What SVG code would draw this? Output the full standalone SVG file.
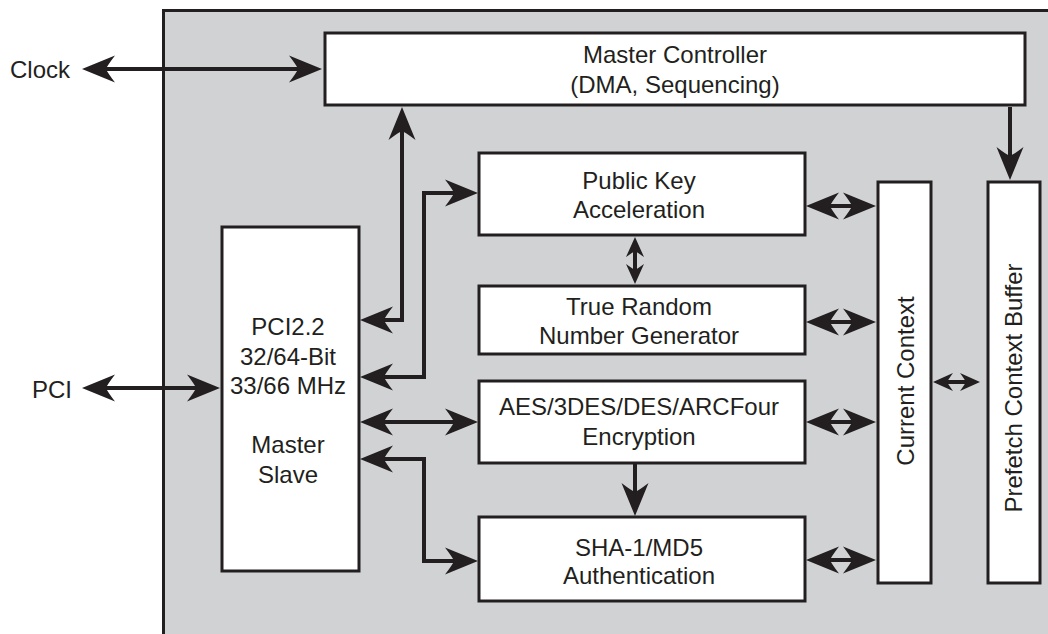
<svg xmlns="http://www.w3.org/2000/svg" width="1048" height="634" viewBox="0 0 1048 634">
<style>
.box{fill:#ffffff;stroke:#231f20;stroke-width:3}
.t{font-family:"Liberation Sans",Arial,sans-serif;font-size:24px;fill:#231f20;text-anchor:middle}
.ts{font-family:"Liberation Sans",Arial,sans-serif;font-size:24px;fill:#231f20}
.c{fill:none;stroke:#231f20;stroke-width:4}
.big{marker-end:url(#ah);marker-start:url(#ah)}
.one{marker-end:url(#ah)}
.sm{marker-end:url(#as);marker-start:url(#as)}
</style>
<defs>
<marker id="ah" markerUnits="userSpaceOnUse" orient="auto-start-reverse" refX="0" refY="0" markerWidth="60" markerHeight="40" viewBox="-20 -20 60 40" overflow="visible">
<path d="M20,0 L-13,-13.5 Q-5,-3 -4,0 Q-5,3 -13,13.5 Z" fill="#231f20"/>
</marker>
<marker id="as" markerUnits="userSpaceOnUse" orient="auto-start-reverse" refX="0" refY="0" markerWidth="40" markerHeight="30" viewBox="-15 -15 40 30" overflow="visible">
<path d="M12,0 L-8,-9 Q-3,-2 -2,0 Q-3,2 -8,9 Z" fill="#231f20"/>
</marker>
</defs>
<rect x="0" y="0" width="1048" height="634" fill="#ffffff"/>
<g id="chip">
<rect x="163.5" y="10.5" width="900" height="700" fill="#d1d2d4" stroke="#231f20" stroke-width="3"/>
</g>
<g id="clock-label"><text class="ts" x="10" y="78">Clock</text></g>
<g id="pci-label"><text class="ts" x="32" y="398">PCI</text></g>
<g id="master-controller">
<rect class="box" x="325" y="33" width="700" height="72"/>
<text class="t" x="675" y="63">Master Controller</text>
<text class="t" x="675" y="93">(DMA, Sequencing)</text>
</g>
<g id="pci-core">
<rect class="box" x="222" y="227" width="137" height="344"/>
<text class="t" x="288" y="335">PCI2.2</text>
<text class="t" x="288" y="365">32/64-Bit</text>
<text class="t" x="288" y="394">33/66 MHz</text>
<text class="t" x="288" y="453">Master</text>
<text class="t" x="288" y="483">Slave</text>
</g>
<g id="public-key">
<rect class="box" x="479" y="153" width="326" height="82"/>
<text class="t" x="639" y="189">Public Key</text>
<text class="t" x="639" y="218">Acceleration</text>
</g>
<g id="trng">
<rect class="box" x="479" y="286" width="326" height="68"/>
<text class="t" x="639" y="315">True Random</text>
<text class="t" x="639" y="344">Number Generator</text>
</g>
<g id="encryption">
<rect class="box" x="479" y="381" width="326" height="82"/>
<text class="t" x="639" y="415">AES/3DES/DES/ARCFour</text>
<text class="t" x="639" y="445">Encryption</text>
</g>
<g id="authentication">
<rect class="box" x="479" y="517" width="326" height="84"/>
<text class="t" x="639" y="556">SHA-1/MD5</text>
<text class="t" x="639" y="584">Authentication</text>
</g>
<g id="current-context">
<rect class="box" x="878" y="182" width="53" height="401"/>
<text class="t" transform="translate(914,381) rotate(-90)">Current Context</text>
</g>
<g id="prefetch-buffer">
<rect class="box" x="988" y="182" width="52" height="401"/>
<text class="t" transform="translate(1022,388) rotate(-90)">Prefetch Context Buffer</text>
</g>
<g id="connectors">
<path class="c big" d="M102,69 L302,69"/>
<path class="c big" d="M102,388 L200,388"/>
<path class="c big" d="M402,127 L402,320 L380,320"/>
<path class="c big" d="M380,377 L424,377 L424,193 L458,193"/>
<path class="c big" d="M380,422 L458,422"/>
<path class="c big" d="M380,459 L424,459 L424,561 L458,561"/>
<path class="c one" d="M635,464 L635,496"/>
<path class="c sm" d="M635,249 L635,272"/>
<path class="c big" d="M826,206 L856,206"/>
<path class="c big" d="M826,322 L856,322"/>
<path class="c big" d="M826,422 L856,422"/>
<path class="c big" d="M826,560 L856,560"/>
<path class="c sm" d="M945,382 L968,382"/>
<path class="c one" d="M1010,107 L1010,160"/>
</g>
</svg>
